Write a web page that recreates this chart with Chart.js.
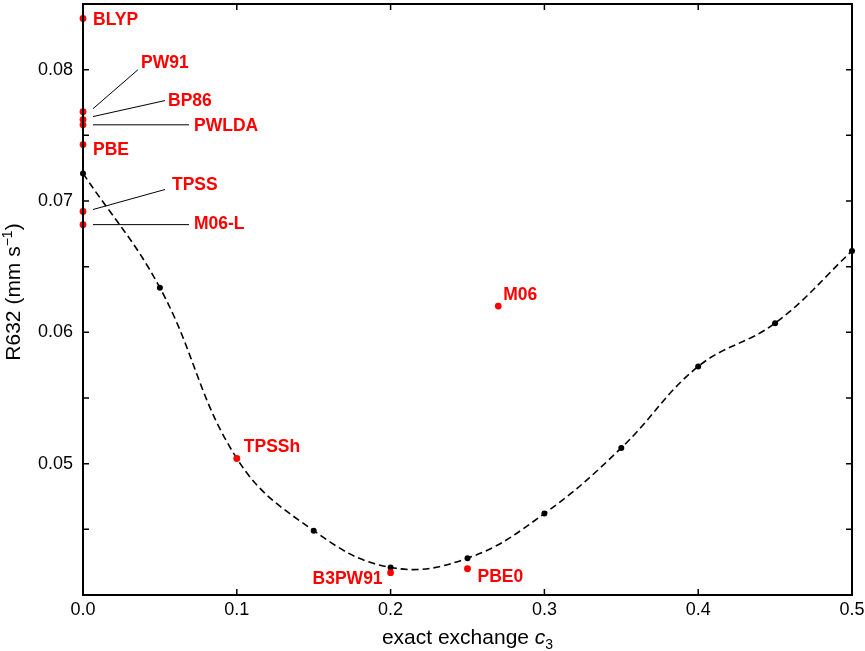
<!DOCTYPE html>
<html>
<head>
<meta charset="utf-8">
<script src="https://cdn.jsdelivr.net/npm/chart.js@4"></script>
<style>
  html, body { margin: 0; padding: 0; background: #fff; }
  #wrap { width: 865px; height: 651px; position: relative; }
</style>
</head>
<body>
<div id="wrap"><canvas id="chartR632"></canvas></div>
<script>
// fitted curve (exact exchange scan)
const curveX = [0.0, 0.05, 0.1, 0.15, 0.2, 0.25, 0.3, 0.35, 0.4, 0.45, 0.5];
const curveY = [0.0721, 0.0634, 0.0504, 0.0449, 0.0421, 0.0428, 0.0462, 0.0512, 0.0574, 0.0607, 0.0662];

// named functionals
const funcNames = ['BLYP', 'PW91', 'BP86', 'PWLDA', 'PBE', 'TPSS', 'M06-L', 'M06', 'TPSSh', 'B3PW91', 'PBE0'];
const funcX = [0.0, 0.0, 0.0, 0.0, 0.0, 0.0, 0.0, 0.27, 0.1, 0.2, 0.25];
const funcY = [0.0839, 0.0768, 0.0762, 0.0758, 0.0743, 0.0692, 0.0682, 0.0620, 0.0504, 0.0417, 0.0420];

const xTickLabels = ['0.0', '0.1', '0.2', '0.3', '0.4', '0.5'];
const yTickLabels = ['0.05', '0.06', '0.07', '0.08'];

// label placement relative to the point (pixels): text offset, align, optional leader line
const labelStyle = {
  'BLYP':   { dx: 10, dy: 2 },
  'PW91':   { dx: 58, dy: -49, lead: [10, -3, 55, -42] },
  'BP86':   { dx: 85, dy: -18, lead: [10, -3, 82, -19] },
  'PWLDA':  { dx: 111, dy: 1, lead: [10, 0, 106, 0] },
  'PBE':    { dx: 10, dy: 6 },
  'TPSS':   { dx: 89, dy: -26, lead: [10, -2, 82, -22] },
  'M06-L':  { dx: 111, dy: 0, lead: [10, 0, 106, 0] },
  'M06':    { dx: 5, dy: -11 },
  'TPSSh':  { dx: 7, dy: -11 },
  'B3PW91': { dx: -8, dy: 6, align: 'right' },
  'PBE0':   { dx: 10, dy: 8 }
};

const FONT = '"Liberation Sans", Arial, Helvetica, sans-serif';

function drawRich(ctx, parts, x, y) {
  let total = 0;
  parts.forEach(p => { ctx.font = p.f; total += ctx.measureText(p.t).width; });
  let cx = x - total / 2;
  parts.forEach(p => {
    ctx.font = p.f;
    ctx.fillText(p.t, cx, y + (p.dy || 0));
    cx += ctx.measureText(p.t).width;
  });
}

function noPadding(scale) {
  scale.paddingTop = 0;
  scale.paddingBottom = 0;
  scale.paddingLeft = 0;
  scale.paddingRight = 0;
}

const framePlugin = {
  id: 'frame',
  afterDraw(chart) {
    const ctx = chart.ctx;
    const a = chart.chartArea;
    const xs = chart.scales.x, ys = chart.scales.y;
    ctx.save();
    ctx.strokeStyle = '#000';
    ctx.lineWidth = 2;
    ctx.strokeRect(a.left, a.top, a.right - a.left, a.bottom - a.top);
    ctx.lineWidth = 1.5;
    ctx.beginPath();
    const tl = 6;
    xs.ticks.forEach(t => {
      const px = xs.getPixelForValue(t.value);
      ctx.moveTo(px, a.bottom); ctx.lineTo(px, a.bottom - tl);
      ctx.moveTo(px, a.top); ctx.lineTo(px, a.top + tl);
    });
    ys.ticks.forEach(t => {
      const py = ys.getPixelForValue(t.value);
      ctx.moveTo(a.left, py); ctx.lineTo(a.left + tl, py);
      ctx.moveTo(a.right, py); ctx.lineTo(a.right - tl, py);
    });
    ctx.stroke();

    // axis titles
    ctx.fillStyle = '#000';
    ctx.textBaseline = 'alphabetic';
    ctx.textAlign = 'left';
    drawRich(ctx, [
      { t: 'exact exchange ', f: '21px ' + FONT },
      { t: 'c', f: 'italic 21px ' + FONT },
      { t: '3', f: '14px ' + FONT, dy: 5 }
    ], (a.left + a.right) / 2, 644);

    ctx.translate(20, 292);
    ctx.rotate(-Math.PI / 2);
    drawRich(ctx, [
      { t: 'R632 (mm s', f: '21px ' + FONT },
      { t: '\u22121', f: '14px ' + FONT, dy: -8 },
      { t: ')', f: '21px ' + FONT }
    ], 0, 0);
    ctx.restore();
  }
};

const labelPlugin = {
  id: 'funcLabels',
  afterDatasetsDraw(chart) {
    const ctx = chart.ctx;
    const xs = chart.scales.x, ys = chart.scales.y;
    ctx.save();
    funcNames.forEach((name, i) => {
      const px = xs.getPixelForValue(funcX[i]);
      const py = ys.getPixelForValue(funcY[i]);
      const s = labelStyle[name];
      if (s.lead) {
        ctx.strokeStyle = '#000';
        ctx.lineWidth = 1;
        ctx.beginPath();
        ctx.moveTo(px + s.lead[0], py + s.lead[1]);
        ctx.lineTo(px + s.lead[2], py + s.lead[3]);
        ctx.stroke();
      }
      ctx.fillStyle = '#ff0000';
      ctx.font = 'bold 17.5px ' + FONT;
      ctx.textAlign = s.align || 'left';
      ctx.textBaseline = 'middle';
      ctx.fillText(name, px + s.dx, py + s.dy);
    });
    ctx.restore();
  }
};

document.addEventListener('DOMContentLoaded', function() {
  const ctx = document.getElementById('chartR632').getContext('2d');
  new Chart(ctx, {
    type: 'scatter',
    data: {
      datasets: [{
        label: 'functionals',
        data: funcX.map((x, i) => ({ x: x, y: funcY[i] })),
        pointRadius: 3.4,
        pointBackgroundColor: '#ff0000',
        pointBorderWidth: 0,
        showLine: false,
        clip: false
      }, {
        label: 'c3 scan',
        data: curveX.map((x, i) => ({ x: x, y: curveY[i] })),
        showLine: true,
        borderColor: '#000',
        borderWidth: 1.6,
        borderDash: [7, 4],
        tension: 0.4,
        pointRadius: 3,
        pointBackgroundColor: '#000',
        pointBorderWidth: 0,
        clip: false
      }]
    },
    options: {
      responsive: true,
      maintainAspectRatio: false,
      animation: false,
      layout: { padding: { left: 0, top: 1, right: 13, bottom: 0 } },
      plugins: {
        legend: { display: false },
        tooltip: { enabled: false },
        title: { display: false }
      },
      scales: {
        x: {
          type: 'linear',
          min: 0,
          max: 0.5,
          afterFit: function(scale) { scale.height = 56; noPadding(scale); },
          grid: { display: false, drawTicks: false },
          border: { display: false },
          ticks: {
            stepSize: 0.1,
            padding: 4,
            color: '#000',
            font: { family: FONT, size: 18 },
            maxRotation: 0,
            callback: function(v) {
              const i = Math.round(v * 10);
              return xTickLabels[i] !== undefined ? xTickLabels[i] : '';
            }
          }
        },
        y: {
          type: 'linear',
          min: 0.04,
          max: 0.085,
          afterFit: function(scale) { scale.width = 83; noPadding(scale); },
          grid: { display: false, drawTicks: false },
          border: { display: false },
          ticks: {
            stepSize: 0.005,
            padding: 10,
            color: '#000',
            font: { family: FONT, size: 18 },
            autoSkip: false,
            callback: function(v) {
              const lbl = v.toFixed(3).replace(/0$/, '');
              return yTickLabels.includes(lbl) ? lbl : '';
            }
          }
        }
      }
    },
    plugins: [framePlugin, labelPlugin]
  });
});
</script>
</body>
</html>
